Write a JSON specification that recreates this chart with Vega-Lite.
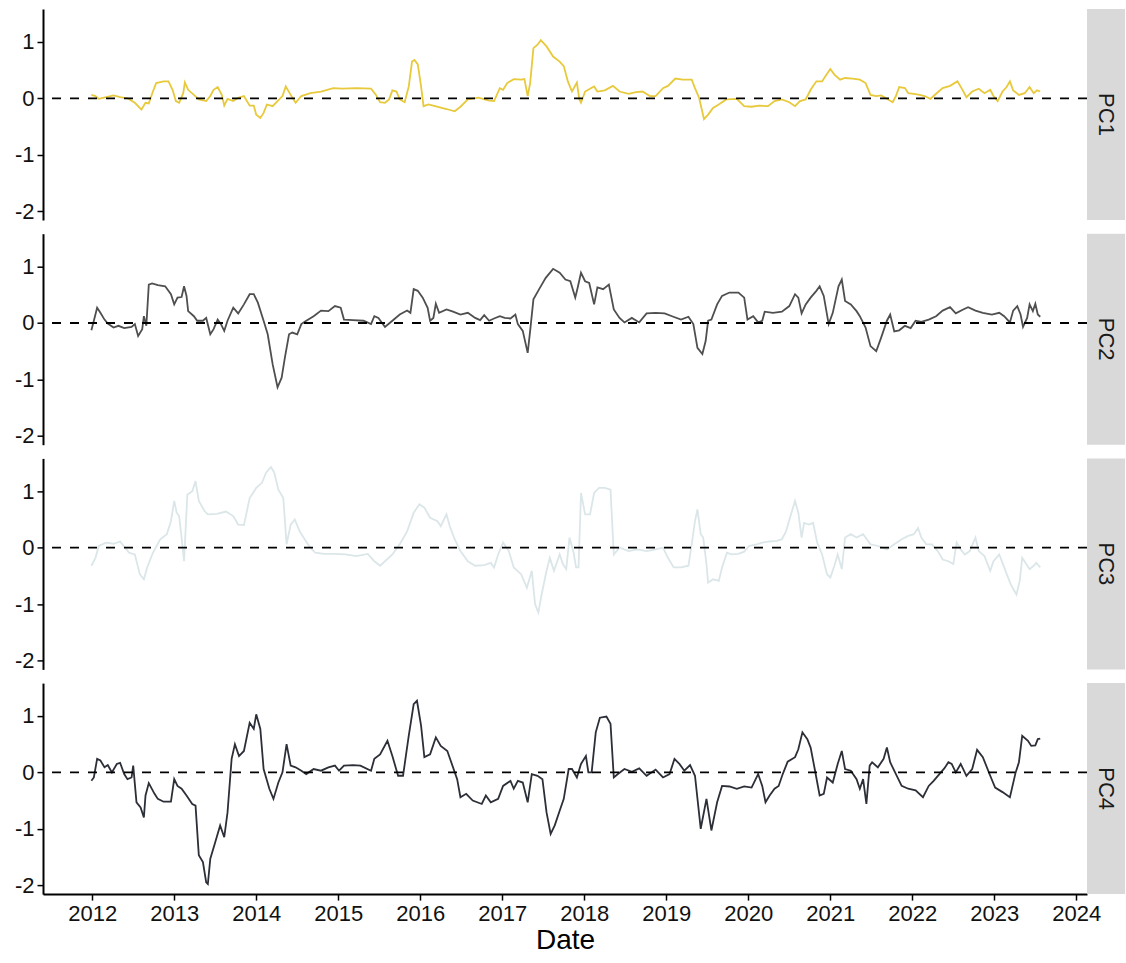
{
  "$schema": "https://vega.github.io/schema/vega-lite/v6.json",
  "padding": {"left": 14, "top": 9, "right": 0, "bottom": 5},
  "background": "white",
  "config": {
    "font": "Liberation Sans",
    "view": {"stroke": null},
    "axis": {
      "domainColor": "#000000",
      "domainWidth": 2,
      "tickColor": "#000000",
      "tickWidth": 1.5,
      "tickSize": 6,
      "labelFont": "Liberation Sans",
      "labelFontSize": 22,
      "labelColor": "#111111",
      "labelPadding": 3,
      "labelFlush": false,
      "grid": false,
      "titleFont": "Liberation Sans",
      "titleFontWeight": "normal"
    }
  },
  "datasets": {
    "pc1": [
      {"year":2011.99,"value":0.06},{"year":2012.04,"value":0.04},{"year":2012.08,"value":-0.01},{"year":2012.17,"value":0.02},{"year":2012.26,"value":0.05},{"year":2012.34,"value":0.02},{"year":2012.43,"value":0.0},{"year":2012.52,"value":-0.08},{"year":2012.60,"value":-0.2},{"year":2012.65,"value":-0.08},{"year":2012.69,"value":-0.09},{"year":2012.74,"value":0.12},{"year":2012.78,"value":0.27},{"year":2012.87,"value":0.3},{"year":2012.93,"value":0.3},{"year":2012.98,"value":0.15},{"year":2013.02,"value":-0.05},{"year":2013.06,"value":-0.08},{"year":2013.11,"value":0.09},{"year":2013.13,"value":0.28},{"year":2013.17,"value":0.15},{"year":2013.24,"value":0.06},{"year":2013.30,"value":-0.02},{"year":2013.39,"value":-0.05},{"year":2013.44,"value":0.04},{"year":2013.48,"value":0.15},{"year":2013.53,"value":0.2},{"year":2013.58,"value":0.06},{"year":2013.61,"value":-0.13},{"year":2013.65,"value":-0.01},{"year":2013.72,"value":-0.05},{"year":2013.78,"value":0.01},{"year":2013.85,"value":0.04},{"year":2013.92,"value":-0.13},{"year":2013.97,"value":-0.13},{"year":2014.00,"value":-0.29},{"year":2014.05,"value":-0.35},{"year":2014.09,"value":-0.26},{"year":2014.13,"value":-0.11},{"year":2014.20,"value":-0.14},{"year":2014.26,"value":-0.05},{"year":2014.32,"value":0.04},{"year":2014.36,"value":0.21},{"year":2014.42,"value":0.06},{"year":2014.48,"value":-0.08},{"year":2014.55,"value":0.04},{"year":2014.66,"value":0.09},{"year":2014.79,"value":0.12},{"year":2014.94,"value":0.18},{"year":2015.05,"value":0.17},{"year":2015.22,"value":0.18},{"year":2015.40,"value":0.17},{"year":2015.46,"value":0.06},{"year":2015.51,"value":-0.07},{"year":2015.57,"value":-0.08},{"year":2015.62,"value":-0.02},{"year":2015.66,"value":0.14},{"year":2015.71,"value":0.12},{"year":2015.75,"value":-0.02},{"year":2015.81,"value":-0.07},{"year":2015.86,"value":0.21},{"year":2015.90,"value":0.65},{"year":2015.93,"value":0.68},{"year":2015.97,"value":0.6},{"year":2016.01,"value":0.21},{"year":2016.04,"value":-0.14},{"year":2016.10,"value":-0.11},{"year":2016.18,"value":-0.14},{"year":2016.32,"value":-0.19},{"year":2016.42,"value":-0.23},{"year":2016.49,"value":-0.15},{"year":2016.58,"value":-0.02},{"year":2016.71,"value":0.01},{"year":2016.84,"value":-0.04},{"year":2016.90,"value":-0.05},{"year":2016.97,"value":0.18},{"year":2017.01,"value":0.15},{"year":2017.06,"value":0.27},{"year":2017.14,"value":0.34},{"year":2017.23,"value":0.33},{"year":2017.27,"value":0.34},{"year":2017.31,"value":0.04},{"year":2017.34,"value":0.27},{"year":2017.38,"value":0.89},{"year":2017.43,"value":0.95},{"year":2017.47,"value":1.03},{"year":2017.54,"value":0.92},{"year":2017.62,"value":0.74},{"year":2017.70,"value":0.65},{"year":2017.75,"value":0.57},{"year":2017.80,"value":0.3},{"year":2017.85,"value":0.12},{"year":2017.91,"value":0.28},{"year":2017.94,"value":-0.02},{"year":2017.96,"value":-0.08},{"year":2018.01,"value":0.12},{"year":2018.07,"value":0.17},{"year":2018.12,"value":0.21},{"year":2018.16,"value":0.12},{"year":2018.25,"value":0.14},{"year":2018.35,"value":0.22},{"year":2018.43,"value":0.12},{"year":2018.54,"value":0.08},{"year":2018.63,"value":0.11},{"year":2018.71,"value":0.12},{"year":2018.80,"value":0.04},{"year":2018.87,"value":0.04},{"year":2018.96,"value":0.18},{"year":2019.02,"value":0.22},{"year":2019.11,"value":0.35},{"year":2019.20,"value":0.33},{"year":2019.31,"value":0.33},{"year":2019.35,"value":0.18},{"year":2019.40,"value":0.01},{"year":2019.46,"value":-0.37},{"year":2019.51,"value":-0.29},{"year":2019.57,"value":-0.17},{"year":2019.64,"value":-0.11},{"year":2019.73,"value":-0.02},{"year":2019.86,"value":-0.01},{"year":2019.95,"value":-0.14},{"year":2020.04,"value":-0.15},{"year":2020.13,"value":-0.13},{"year":2020.24,"value":-0.14},{"year":2020.32,"value":-0.05},{"year":2020.41,"value":-0.02},{"year":2020.50,"value":-0.07},{"year":2020.57,"value":-0.14},{"year":2020.63,"value":-0.05},{"year":2020.70,"value":-0.02},{"year":2020.76,"value":0.15},{"year":2020.83,"value":0.3},{"year":2020.90,"value":0.3},{"year":2020.94,"value":0.39},{"year":2021.00,"value":0.52},{"year":2021.05,"value":0.42},{"year":2021.12,"value":0.33},{"year":2021.18,"value":0.36},{"year":2021.27,"value":0.35},{"year":2021.36,"value":0.33},{"year":2021.43,"value":0.27},{"year":2021.49,"value":0.06},{"year":2021.56,"value":0.04},{"year":2021.62,"value":0.05},{"year":2021.69,"value":-0.01},{"year":2021.76,"value":-0.07},{"year":2021.80,"value":0.04},{"year":2021.84,"value":0.2},{"year":2021.91,"value":0.18},{"year":2021.95,"value":0.09},{"year":2022.02,"value":0.08},{"year":2022.09,"value":0.06},{"year":2022.15,"value":0.04},{"year":2022.22,"value":-0.01},{"year":2022.29,"value":0.08},{"year":2022.37,"value":0.18},{"year":2022.46,"value":0.22},{"year":2022.55,"value":0.3},{"year":2022.60,"value":0.18},{"year":2022.66,"value":0.02},{"year":2022.73,"value":0.12},{"year":2022.81,"value":0.17},{"year":2022.88,"value":0.09},{"year":2022.95,"value":0.15},{"year":2022.99,"value":0.04},{"year":2023.04,"value":-0.05},{"year":2023.10,"value":0.12},{"year":2023.15,"value":0.2},{"year":2023.19,"value":0.3},{"year":2023.23,"value":0.14},{"year":2023.30,"value":0.06},{"year":2023.37,"value":0.09},{"year":2023.43,"value":0.2},{"year":2023.48,"value":0.09},{"year":2023.52,"value":0.14},{"year":2023.56,"value":0.12}
    ],
    "pc2": [
      {"year":2011.99,"value":-0.13},{"year":2012.02,"value":0.04},{"year":2012.06,"value":0.27},{"year":2012.10,"value":0.18},{"year":2012.15,"value":0.06},{"year":2012.19,"value":-0.01},{"year":2012.26,"value":-0.08},{"year":2012.32,"value":-0.05},{"year":2012.39,"value":-0.09},{"year":2012.48,"value":-0.07},{"year":2012.52,"value":-0.02},{"year":2012.56,"value":-0.23},{"year":2012.61,"value":-0.11},{"year":2012.63,"value":0.12},{"year":2012.66,"value":-0.05},{"year":2012.69,"value":0.68},{"year":2012.73,"value":0.7},{"year":2012.80,"value":0.67},{"year":2012.89,"value":0.65},{"year":2012.96,"value":0.51},{"year":2013.00,"value":0.33},{"year":2013.04,"value":0.45},{"year":2013.09,"value":0.46},{"year":2013.12,"value":0.65},{"year":2013.15,"value":0.48},{"year":2013.17,"value":0.21},{"year":2013.24,"value":0.12},{"year":2013.28,"value":0.04},{"year":2013.35,"value":0.04},{"year":2013.39,"value":0.09},{"year":2013.44,"value":-0.2},{"year":2013.48,"value":-0.11},{"year":2013.53,"value":0.06},{"year":2013.57,"value":-0.02},{"year":2013.61,"value":-0.14},{"year":2013.65,"value":0.04},{"year":2013.72,"value":0.27},{"year":2013.78,"value":0.17},{"year":2013.85,"value":0.33},{"year":2013.92,"value":0.51},{"year":2013.97,"value":0.51},{"year":2014.02,"value":0.36},{"year":2014.09,"value":0.04},{"year":2014.14,"value":-0.2},{"year":2014.20,"value":-0.73},{"year":2014.26,"value":-1.14},{"year":2014.31,"value":-0.97},{"year":2014.35,"value":-0.61},{"year":2014.40,"value":-0.2},{"year":2014.44,"value":-0.17},{"year":2014.50,"value":-0.2},{"year":2014.55,"value":-0.02},{"year":2014.61,"value":0.04},{"year":2014.70,"value":0.12},{"year":2014.79,"value":0.22},{"year":2014.88,"value":0.21},{"year":2014.96,"value":0.3},{"year":2015.03,"value":0.27},{"year":2015.07,"value":0.06},{"year":2015.18,"value":0.05},{"year":2015.31,"value":0.04},{"year":2015.40,"value":-0.02},{"year":2015.44,"value":0.12},{"year":2015.49,"value":0.09},{"year":2015.57,"value":-0.07},{"year":2015.66,"value":0.04},{"year":2015.75,"value":0.15},{"year":2015.84,"value":0.22},{"year":2015.88,"value":0.18},{"year":2015.92,"value":0.6},{"year":2015.97,"value":0.57},{"year":2016.03,"value":0.45},{"year":2016.09,"value":0.27},{"year":2016.12,"value":0.04},{"year":2016.16,"value":0.09},{"year":2016.19,"value":0.34},{"year":2016.23,"value":0.18},{"year":2016.32,"value":0.24},{"year":2016.40,"value":0.2},{"year":2016.49,"value":0.15},{"year":2016.58,"value":0.18},{"year":2016.67,"value":0.09},{"year":2016.73,"value":0.05},{"year":2016.78,"value":0.14},{"year":2016.84,"value":0.04},{"year":2016.90,"value":0.08},{"year":2016.97,"value":0.12},{"year":2017.03,"value":0.09},{"year":2017.10,"value":0.08},{"year":2017.16,"value":0.15},{"year":2017.19,"value":-0.02},{"year":2017.25,"value":-0.14},{"year":2017.31,"value":-0.53},{"year":2017.34,"value":-0.14},{"year":2017.38,"value":0.42},{"year":2017.45,"value":0.6},{"year":2017.53,"value":0.8},{"year":2017.62,"value":0.96},{"year":2017.70,"value":0.89},{"year":2017.77,"value":0.77},{"year":2017.83,"value":0.74},{"year":2017.89,"value":0.45},{"year":2017.92,"value":0.63},{"year":2017.96,"value":0.89},{"year":2018.01,"value":0.74},{"year":2018.06,"value":0.71},{"year":2018.12,"value":0.33},{"year":2018.16,"value":0.63},{"year":2018.23,"value":0.6},{"year":2018.30,"value":0.68},{"year":2018.36,"value":0.24},{"year":2018.43,"value":0.09},{"year":2018.49,"value":0.01},{"year":2018.58,"value":0.09},{"year":2018.67,"value":0.01},{"year":2018.76,"value":0.17},{"year":2018.87,"value":0.18},{"year":2018.98,"value":0.17},{"year":2019.07,"value":0.12},{"year":2019.18,"value":0.06},{"year":2019.27,"value":0.11},{"year":2019.33,"value":-0.02},{"year":2019.38,"value":-0.44},{"year":2019.44,"value":-0.55},{"year":2019.48,"value":-0.32},{"year":2019.51,"value":0.04},{"year":2019.55,"value":0.06},{"year":2019.62,"value":0.33},{"year":2019.68,"value":0.48},{"year":2019.77,"value":0.54},{"year":2019.88,"value":0.54},{"year":2019.95,"value":0.45},{"year":2019.99,"value":0.06},{"year":2020.06,"value":0.12},{"year":2020.12,"value":0.01},{"year":2020.17,"value":0.04},{"year":2020.20,"value":0.2},{"year":2020.30,"value":0.18},{"year":2020.41,"value":0.2},{"year":2020.50,"value":0.3},{"year":2020.57,"value":0.51},{"year":2020.61,"value":0.45},{"year":2020.65,"value":0.17},{"year":2020.70,"value":0.33},{"year":2020.76,"value":0.45},{"year":2020.83,"value":0.57},{"year":2020.87,"value":0.65},{"year":2020.92,"value":0.48},{"year":2020.98,"value":-0.02},{"year":2021.03,"value":0.18},{"year":2021.10,"value":0.65},{"year":2021.14,"value":0.77},{"year":2021.18,"value":0.39},{"year":2021.25,"value":0.33},{"year":2021.32,"value":0.21},{"year":2021.36,"value":0.12},{"year":2021.43,"value":-0.08},{"year":2021.49,"value":-0.41},{"year":2021.56,"value":-0.5},{"year":2021.62,"value":-0.26},{"year":2021.69,"value":0.04},{"year":2021.73,"value":0.15},{"year":2021.78,"value":-0.15},{"year":2021.84,"value":-0.13},{"year":2021.91,"value":-0.05},{"year":2021.98,"value":-0.09},{"year":2022.04,"value":0.04},{"year":2022.11,"value":0.02},{"year":2022.20,"value":0.06},{"year":2022.29,"value":0.12},{"year":2022.37,"value":0.22},{"year":2022.46,"value":0.28},{"year":2022.53,"value":0.17},{"year":2022.62,"value":0.24},{"year":2022.68,"value":0.28},{"year":2022.77,"value":0.22},{"year":2022.86,"value":0.18},{"year":2022.97,"value":0.15},{"year":2023.06,"value":0.18},{"year":2023.12,"value":0.12},{"year":2023.19,"value":0.01},{"year":2023.23,"value":0.22},{"year":2023.28,"value":0.3},{"year":2023.32,"value":0.15},{"year":2023.35,"value":-0.07},{"year":2023.40,"value":0.09},{"year":2023.43,"value":0.33},{"year":2023.47,"value":0.21},{"year":2023.50,"value":0.34},{"year":2023.53,"value":0.15},{"year":2023.56,"value":0.11}
    ],
    "pc3": [
      {"year":2011.99,"value":-0.32},{"year":2012.04,"value":-0.18},{"year":2012.08,"value":0.03},{"year":2012.17,"value":0.09},{"year":2012.26,"value":0.07},{"year":2012.34,"value":0.11},{"year":2012.40,"value":0.0},{"year":2012.45,"value":-0.09},{"year":2012.52,"value":-0.12},{"year":2012.58,"value":-0.47},{"year":2012.63,"value":-0.56},{"year":2012.67,"value":-0.35},{"year":2012.74,"value":-0.09},{"year":2012.83,"value":0.15},{"year":2012.91,"value":0.24},{"year":2012.96,"value":0.47},{"year":2013.00,"value":0.83},{"year":2013.03,"value":0.62},{"year":2013.06,"value":0.56},{"year":2013.09,"value":0.18},{"year":2013.12,"value":-0.24},{"year":2013.16,"value":0.94},{"year":2013.22,"value":1.0},{"year":2013.26,"value":1.18},{"year":2013.30,"value":0.83},{"year":2013.37,"value":0.65},{"year":2013.41,"value":0.59},{"year":2013.52,"value":0.6},{"year":2013.63,"value":0.64},{"year":2013.72,"value":0.56},{"year":2013.78,"value":0.41},{"year":2013.85,"value":0.4},{"year":2013.92,"value":0.88},{"year":2014.00,"value":1.06},{"year":2014.07,"value":1.15},{"year":2014.12,"value":1.33},{"year":2014.18,"value":1.43},{"year":2014.22,"value":1.33},{"year":2014.27,"value":1.03},{"year":2014.33,"value":0.88},{"year":2014.37,"value":0.06},{"year":2014.42,"value":0.41},{"year":2014.47,"value":0.5},{"year":2014.53,"value":0.29},{"year":2014.59,"value":0.15},{"year":2014.66,"value":0.0},{"year":2014.72,"value":-0.09},{"year":2014.83,"value":-0.11},{"year":2014.96,"value":-0.11},{"year":2015.09,"value":-0.12},{"year":2015.22,"value":-0.15},{"year":2015.36,"value":-0.11},{"year":2015.44,"value":-0.24},{"year":2015.51,"value":-0.32},{"year":2015.57,"value":-0.24},{"year":2015.66,"value":-0.12},{"year":2015.75,"value":0.06},{"year":2015.84,"value":0.29},{"year":2015.92,"value":0.62},{"year":2015.99,"value":0.77},{"year":2016.05,"value":0.71},{"year":2016.12,"value":0.53},{"year":2016.21,"value":0.47},{"year":2016.25,"value":0.38},{"year":2016.32,"value":0.59},{"year":2016.36,"value":0.38},{"year":2016.42,"value":0.15},{"year":2016.49,"value":-0.06},{"year":2016.58,"value":-0.24},{"year":2016.67,"value":-0.32},{"year":2016.78,"value":-0.31},{"year":2016.86,"value":-0.27},{"year":2016.90,"value":-0.35},{"year":2016.95,"value":-0.12},{"year":2017.01,"value":0.09},{"year":2017.08,"value":-0.06},{"year":2017.14,"value":-0.35},{"year":2017.23,"value":-0.47},{"year":2017.30,"value":-0.71},{"year":2017.36,"value":-0.41},{"year":2017.40,"value":-1.0},{"year":2017.44,"value":-1.15},{"year":2017.48,"value":-0.83},{"year":2017.54,"value":-0.41},{"year":2017.58,"value":-0.18},{"year":2017.63,"value":-0.41},{"year":2017.70,"value":-0.12},{"year":2017.74,"value":-0.29},{"year":2017.78,"value":-0.38},{"year":2017.82,"value":0.18},{"year":2017.87,"value":-0.09},{"year":2017.90,"value":-0.35},{"year":2017.93,"value":-0.35},{"year":2017.96,"value":0.97},{"year":2018.01,"value":0.59},{"year":2018.07,"value":0.59},{"year":2018.12,"value":0.97},{"year":2018.18,"value":1.06},{"year":2018.25,"value":1.06},{"year":2018.32,"value":1.03},{"year":2018.36,"value":-0.12},{"year":2018.43,"value":0.0},{"year":2018.54,"value":-0.06},{"year":2018.65,"value":-0.03},{"year":2018.76,"value":-0.06},{"year":2018.87,"value":-0.03},{"year":2018.96,"value":0.0},{"year":2019.02,"value":-0.18},{"year":2019.09,"value":-0.35},{"year":2019.18,"value":-0.35},{"year":2019.27,"value":-0.32},{"year":2019.31,"value":0.06},{"year":2019.35,"value":0.47},{"year":2019.38,"value":0.68},{"year":2019.42,"value":0.24},{"year":2019.45,"value":0.18},{"year":2019.49,"value":-0.29},{"year":2019.51,"value":-0.62},{"year":2019.57,"value":-0.56},{"year":2019.64,"value":-0.59},{"year":2019.68,"value":-0.35},{"year":2019.74,"value":-0.09},{"year":2019.79,"value":-0.12},{"year":2019.88,"value":-0.11},{"year":2019.95,"value":-0.07},{"year":2020.01,"value":0.03},{"year":2020.10,"value":0.06},{"year":2020.17,"value":0.09},{"year":2020.26,"value":0.11},{"year":2020.35,"value":0.12},{"year":2020.41,"value":0.15},{"year":2020.46,"value":0.29},{"year":2020.52,"value":0.59},{"year":2020.57,"value":0.83},{"year":2020.61,"value":0.62},{"year":2020.65,"value":0.18},{"year":2020.68,"value":0.44},{"year":2020.74,"value":0.41},{"year":2020.79,"value":0.44},{"year":2020.84,"value":0.09},{"year":2020.90,"value":-0.12},{"year":2020.96,"value":-0.47},{"year":2021.00,"value":-0.53},{"year":2021.05,"value":-0.32},{"year":2021.09,"value":-0.12},{"year":2021.14,"value":-0.38},{"year":2021.18,"value":0.18},{"year":2021.25,"value":0.24},{"year":2021.32,"value":0.18},{"year":2021.40,"value":0.24},{"year":2021.49,"value":0.06},{"year":2021.58,"value":0.03},{"year":2021.69,"value":-0.03},{"year":2021.78,"value":0.06},{"year":2021.87,"value":0.15},{"year":2021.95,"value":0.21},{"year":2022.02,"value":0.24},{"year":2022.07,"value":0.35},{"year":2022.11,"value":0.18},{"year":2022.17,"value":0.06},{"year":2022.24,"value":0.06},{"year":2022.31,"value":-0.06},{"year":2022.37,"value":-0.21},{"year":2022.44,"value":-0.24},{"year":2022.50,"value":-0.29},{"year":2022.54,"value":0.09},{"year":2022.59,"value":-0.03},{"year":2022.64,"value":-0.12},{"year":2022.70,"value":-0.06},{"year":2022.77,"value":0.18},{"year":2022.81,"value":-0.06},{"year":2022.88,"value":-0.15},{"year":2022.95,"value":-0.41},{"year":2022.99,"value":-0.24},{"year":2023.06,"value":-0.12},{"year":2023.12,"value":-0.35},{"year":2023.20,"value":-0.65},{"year":2023.27,"value":-0.83},{"year":2023.31,"value":-0.59},{"year":2023.34,"value":-0.18},{"year":2023.39,"value":-0.29},{"year":2023.43,"value":-0.38},{"year":2023.48,"value":-0.32},{"year":2023.51,"value":-0.27},{"year":2023.56,"value":-0.35}
    ],
    "pc4": [
      {"year":2011.99,"value":-0.15},{"year":2012.02,"value":-0.09},{"year":2012.06,"value":0.24},{"year":2012.10,"value":0.21},{"year":2012.15,"value":0.09},{"year":2012.19,"value":0.13},{"year":2012.24,"value":0.0},{"year":2012.30,"value":0.15},{"year":2012.34,"value":0.17},{"year":2012.39,"value":-0.03},{"year":2012.43,"value":-0.12},{"year":2012.48,"value":-0.09},{"year":2012.50,"value":0.12},{"year":2012.54,"value":-0.53},{"year":2012.59,"value":-0.62},{"year":2012.63,"value":-0.8},{"year":2012.65,"value":-0.41},{"year":2012.69,"value":-0.19},{"year":2012.76,"value":-0.38},{"year":2012.80,"value":-0.47},{"year":2012.87,"value":-0.52},{"year":2012.96,"value":-0.52},{"year":2013.00,"value":-0.12},{"year":2013.04,"value":-0.24},{"year":2013.09,"value":-0.29},{"year":2013.15,"value":-0.41},{"year":2013.22,"value":-0.56},{"year":2013.26,"value":-0.59},{"year":2013.30,"value":-1.47},{"year":2013.35,"value":-1.59},{"year":2013.39,"value":-1.95},{"year":2013.41,"value":-1.98},{"year":2013.44,"value":-1.53},{"year":2013.50,"value":-1.24},{"year":2013.56,"value":-0.94},{"year":2013.61,"value":-1.15},{"year":2013.65,"value":-0.71},{"year":2013.70,"value":0.24},{"year":2013.74,"value":0.5},{"year":2013.79,"value":0.29},{"year":2013.85,"value":0.38},{"year":2013.92,"value":0.88},{"year":2013.97,"value":0.77},{"year":2014.00,"value":1.03},{"year":2014.05,"value":0.77},{"year":2014.09,"value":0.06},{"year":2014.16,"value":-0.29},{"year":2014.21,"value":-0.47},{"year":2014.27,"value":-0.18},{"year":2014.32,"value":0.0},{"year":2014.37,"value":0.5},{"year":2014.42,"value":0.12},{"year":2014.48,"value":0.09},{"year":2014.55,"value":0.03},{"year":2014.61,"value":-0.03},{"year":2014.70,"value":0.06},{"year":2014.79,"value":0.03},{"year":2014.88,"value":0.09},{"year":2014.96,"value":0.12},{"year":2015.01,"value":0.03},{"year":2015.07,"value":0.12},{"year":2015.18,"value":0.13},{"year":2015.27,"value":0.12},{"year":2015.40,"value":0.03},{"year":2015.44,"value":0.24},{"year":2015.51,"value":0.32},{"year":2015.60,"value":0.56},{"year":2015.66,"value":0.29},{"year":2015.73,"value":-0.06},{"year":2015.79,"value":-0.06},{"year":2015.86,"value":0.65},{"year":2015.92,"value":1.21},{"year":2015.96,"value":1.27},{"year":2016.01,"value":0.83},{"year":2016.05,"value":0.27},{"year":2016.12,"value":0.32},{"year":2016.19,"value":0.62},{"year":2016.25,"value":0.47},{"year":2016.33,"value":0.38},{"year":2016.45,"value":-0.12},{"year":2016.49,"value":-0.44},{"year":2016.56,"value":-0.38},{"year":2016.64,"value":-0.5},{"year":2016.75,"value":-0.56},{"year":2016.80,"value":-0.41},{"year":2016.86,"value":-0.53},{"year":2016.95,"value":-0.47},{"year":2017.01,"value":-0.24},{"year":2017.10,"value":-0.15},{"year":2017.14,"value":-0.29},{"year":2017.19,"value":-0.15},{"year":2017.25,"value":-0.18},{"year":2017.31,"value":-0.53},{"year":2017.36,"value":-0.03},{"year":2017.43,"value":-0.06},{"year":2017.49,"value":-0.12},{"year":2017.54,"value":-0.71},{"year":2017.59,"value":-1.09},{"year":2017.64,"value":-0.94},{"year":2017.70,"value":-0.68},{"year":2017.75,"value":-0.47},{"year":2017.81,"value":0.06},{"year":2017.85,"value":0.06},{"year":2017.91,"value":-0.09},{"year":2017.96,"value":0.15},{"year":2018.02,"value":0.29},{"year":2018.05,"value":0.0},{"year":2018.09,"value":0.0},{"year":2018.14,"value":0.71},{"year":2018.19,"value":0.97},{"year":2018.27,"value":0.99},{"year":2018.32,"value":0.86},{"year":2018.36,"value":-0.09},{"year":2018.41,"value":-0.03},{"year":2018.49,"value":0.06},{"year":2018.58,"value":0.01},{"year":2018.67,"value":0.07},{"year":2018.76,"value":-0.06},{"year":2018.87,"value":0.05},{"year":2018.96,"value":-0.09},{"year":2019.04,"value":-0.03},{"year":2019.10,"value":0.24},{"year":2019.16,"value":0.15},{"year":2019.22,"value":0.03},{"year":2019.29,"value":0.13},{"year":2019.35,"value":-0.06},{"year":2019.42,"value":-1.0},{"year":2019.49,"value":-0.47},{"year":2019.55,"value":-1.03},{"year":2019.62,"value":-0.53},{"year":2019.68,"value":-0.24},{"year":2019.77,"value":-0.25},{"year":2019.86,"value":-0.29},{"year":2019.95,"value":-0.25},{"year":2020.04,"value":-0.27},{"year":2020.12,"value":-0.03},{"year":2020.17,"value":-0.24},{"year":2020.21,"value":-0.53},{"year":2020.26,"value":-0.41},{"year":2020.32,"value":-0.29},{"year":2020.37,"value":-0.24},{"year":2020.42,"value":-0.03},{"year":2020.48,"value":0.19},{"year":2020.57,"value":0.27},{"year":2020.61,"value":0.41},{"year":2020.66,"value":0.71},{"year":2020.72,"value":0.59},{"year":2020.76,"value":0.44},{"year":2020.81,"value":0.06},{"year":2020.87,"value":-0.41},{"year":2020.92,"value":-0.38},{"year":2020.96,"value":-0.09},{"year":2021.03,"value":-0.18},{"year":2021.09,"value":0.15},{"year":2021.14,"value":0.38},{"year":2021.18,"value":0.06},{"year":2021.25,"value":0.03},{"year":2021.32,"value":-0.12},{"year":2021.36,"value":-0.29},{"year":2021.40,"value":-0.12},{"year":2021.44,"value":-0.56},{"year":2021.48,"value":0.12},{"year":2021.51,"value":0.18},{"year":2021.58,"value":0.09},{"year":2021.65,"value":0.24},{"year":2021.69,"value":0.44},{"year":2021.73,"value":0.18},{"year":2021.80,"value":-0.03},{"year":2021.87,"value":-0.24},{"year":2021.95,"value":-0.29},{"year":2022.04,"value":-0.32},{"year":2022.13,"value":-0.44},{"year":2022.20,"value":-0.24},{"year":2022.26,"value":-0.15},{"year":2022.33,"value":-0.03},{"year":2022.39,"value":0.07},{"year":2022.44,"value":0.18},{"year":2022.48,"value":0.15},{"year":2022.53,"value":0.0},{"year":2022.59,"value":0.15},{"year":2022.66,"value":-0.06},{"year":2022.73,"value":0.06},{"year":2022.79,"value":0.4},{"year":2022.86,"value":0.27},{"year":2022.95,"value":-0.06},{"year":2023.01,"value":-0.27},{"year":2023.10,"value":-0.35},{"year":2023.19,"value":-0.44},{"year":2023.26,"value":0.0},{"year":2023.30,"value":0.18},{"year":2023.34,"value":0.65},{"year":2023.41,"value":0.56},{"year":2023.45,"value":0.47},{"year":2023.50,"value":0.48},{"year":2023.53,"value":0.59},{"year":2023.56,"value":0.6}
    ],
    "zero": [{"ref": 0}]
  },
  "columns": 2,
  "bounds": "flush",
  "spacing": {"row": 13.7, "column": 0},
  "concat": [
    {
      "width": 1044, "height": 211,
      "layer": [
        {
          "data": {"name": "pc1"},
          "mark": {"type": "line", "color": "#E8C93B", "strokeWidth": 1.8},
          "encoding": {
            "x": {"field": "year", "type": "quantitative", "scale": {"domain": [2011.4, 2024.13], "nice": false, "zero": false}, "axis": null},
            "y": {"field": "value", "type": "quantitative", "scale": {"domain": [-2.158, 1.583], "nice": false, "zero": false}, "axis": {"values": [-2, -1, 0, 1], "title": null, "labelExpr": "datum.value + ''"}}
          }
        },
        {
          "data": {"name": "zero"},
          "mark": {"type": "rule", "color": "#000000", "strokeWidth": 1.8, "strokeDash": [9, 9]},
          "encoding": {"y": {"field": "ref", "type": "quantitative"}}
        }
      ]
    },
    {
      "width": 38, "height": 211,
      "view": {"fill": "#d9d9d9", "stroke": null},
      "data": {"values": [{"pc": "PC1"}]},
      "mark": {"type": "text", "angle": 90, "fontSize": 22, "color": "#1a1a1a", "font": "Liberation Sans"},
      "encoding": {"text": {"field": "pc"}}
    },
    {
      "width": 1044, "height": 211,
      "layer": [
        {
          "data": {"name": "pc2"},
          "mark": {"type": "line", "color": "#4f4f4f", "strokeWidth": 1.8},
          "encoding": {
            "x": {"field": "year", "type": "quantitative", "scale": {"domain": [2011.4, 2024.13], "nice": false, "zero": false}, "axis": null},
            "y": {"field": "value", "type": "quantitative", "scale": {"domain": [-2.158, 1.583], "nice": false, "zero": false}, "axis": {"values": [-2, -1, 0, 1], "title": null, "labelExpr": "datum.value + ''"}}
          }
        },
        {
          "data": {"name": "zero"},
          "mark": {"type": "rule", "color": "#000000", "strokeWidth": 1.8, "strokeDash": [9, 9]},
          "encoding": {"y": {"field": "ref", "type": "quantitative"}}
        }
      ]
    },
    {
      "width": 38, "height": 211,
      "view": {"fill": "#d9d9d9", "stroke": null},
      "data": {"values": [{"pc": "PC2"}]},
      "mark": {"type": "text", "angle": 90, "fontSize": 22, "color": "#1a1a1a", "font": "Liberation Sans"},
      "encoding": {"text": {"field": "pc"}}
    },
    {
      "width": 1044, "height": 211,
      "layer": [
        {
          "data": {"name": "pc3"},
          "mark": {"type": "line", "color": "#dbe6e9", "strokeWidth": 1.8},
          "encoding": {
            "x": {"field": "year", "type": "quantitative", "scale": {"domain": [2011.4, 2024.13], "nice": false, "zero": false}, "axis": null},
            "y": {"field": "value", "type": "quantitative", "scale": {"domain": [-2.158, 1.583], "nice": false, "zero": false}, "axis": {"values": [-2, -1, 0, 1], "title": null, "labelExpr": "datum.value + ''"}}
          }
        },
        {
          "data": {"name": "zero"},
          "mark": {"type": "rule", "color": "#000000", "strokeWidth": 1.8, "strokeDash": [9, 9]},
          "encoding": {"y": {"field": "ref", "type": "quantitative"}}
        }
      ]
    },
    {
      "width": 38, "height": 211,
      "view": {"fill": "#d9d9d9", "stroke": null},
      "data": {"values": [{"pc": "PC3"}]},
      "mark": {"type": "text", "angle": 90, "fontSize": 22, "color": "#1a1a1a", "font": "Liberation Sans"},
      "encoding": {"text": {"field": "pc"}}
    },
    {
      "width": 1044, "height": 211,
      "layer": [
        {
          "data": {"name": "pc4"},
          "mark": {"type": "line", "color": "#2c2f37", "strokeWidth": 1.8},
          "encoding": {
            "x": {"field": "year", "type": "quantitative", "scale": {"domain": [2011.4, 2024.13], "nice": false, "zero": false}, "axis": {"values": [2012, 2013, 2014, 2015, 2016, 2017, 2018, 2019, 2020, 2021, 2022, 2023, 2024], "format": "d", "title": "Date", "titleFontSize": 28, "titleColor": "#000000", "titlePadding": 2, "labelPadding": 3}},
            "y": {"field": "value", "type": "quantitative", "scale": {"domain": [-2.158, 1.583], "nice": false, "zero": false}, "axis": {"values": [-2, -1, 0, 1], "title": null, "labelExpr": "datum.value + ''"}}
          }
        },
        {
          "data": {"name": "zero"},
          "mark": {"type": "rule", "color": "#000000", "strokeWidth": 1.8, "strokeDash": [9, 9]},
          "encoding": {"y": {"field": "ref", "type": "quantitative"}}
        }
      ]
    },
    {
      "width": 38, "height": 211,
      "view": {"fill": "#d9d9d9", "stroke": null},
      "data": {"values": [{"pc": "PC4"}]},
      "mark": {"type": "text", "angle": 90, "fontSize": 22, "color": "#1a1a1a", "font": "Liberation Sans"},
      "encoding": {"text": {"field": "pc"}}
    }
  ]
}
